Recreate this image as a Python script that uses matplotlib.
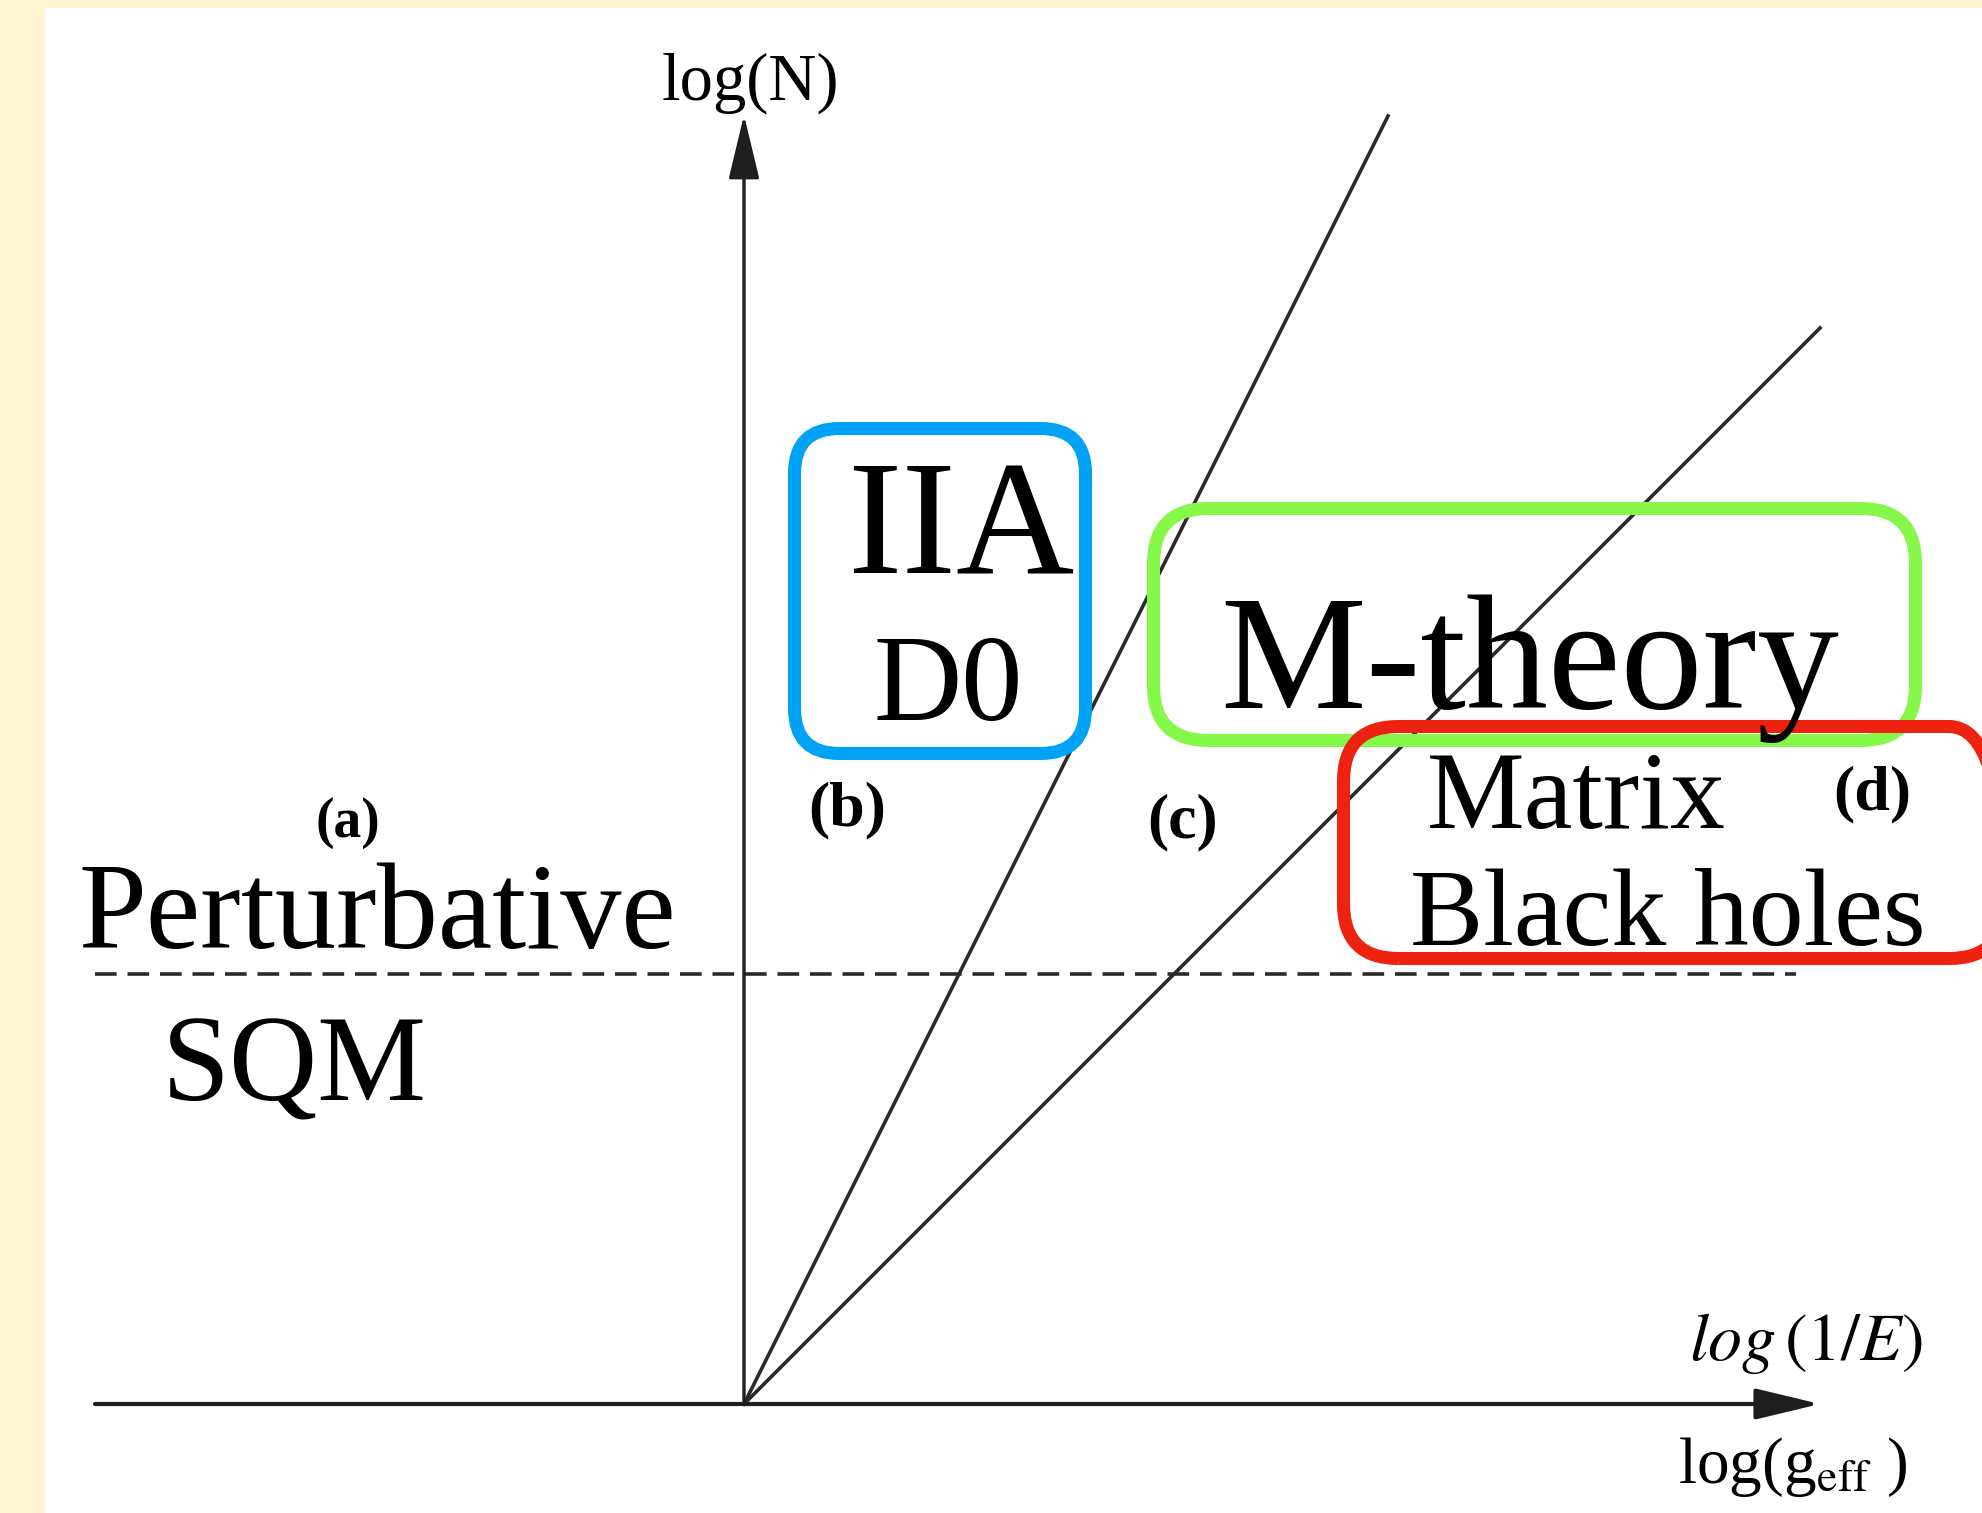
#!/usr/bin/python3
# -*- coding: utf-8 -*-

import matplotlib
matplotlib.use("Agg")
import matplotlib.pyplot as plt
from matplotlib.patches import FancyBboxPatch


#########################################################################################
#
#                                 Datos del diagrama
#
#########################################################################################

# unidades: 1 unidad = 100 px de la figura, origen en el cruce de los ejes
PENDIENTES_FRONTERA     =[2.0, 1.0]
X_FINAL_FRONTERA        =[6.44, 10.76]
Y_PERTURBATIVO          =4.3
X_PERTURBATIVO          =[-6.49, 10.52]
EJE_X                   =[-6.49, 10.76]
EJE_Y                   =[0.0, 12.89]

ETIQUETAS_REGION        =["(a)", "(b)", "(c)", "(d)"]

CREMA   ="#fff5d0"
AZUL    ="#00a2f5"
VERDE   ="#86f84a"
ROJO    ="#ee2210"
TINTA   ="#1e1e1e"

plt.rcParams["font.family"]=["Liberation Serif", "DejaVu Serif"]
plt.rcParams["mathtext.fontset"]="stix"


def texto(ax, x, y, cadena, tam, **kw):
    ax.text(x, y, cadena, fontsize=tam, ha="center", va="baseline", color="black", zorder=5, **kw)

def caja(ax, x0, y0, x1, y1, color, radio):
    p=FancyBboxPatch((x0, y0), x1-x0, y1-y0,
                     boxstyle="round,pad=0,rounding_size=%f" % radio,
                     fill=False, edgecolor=color, linewidth=9.4, zorder=4)
    ax.add_patch(p)

def flecha(ax, desde, hasta, lw):
    ax.annotate("", xy=hasta, xytext=desde,
                arrowprops=dict(arrowstyle="-|>,head_length=1.0,head_width=0.24",
                                mutation_scale=40, lw=lw, color=TINTA,
                                shrinkA=0, shrinkB=0))


fig=plt.figure(figsize=(19.83, 15.13), dpi=100, facecolor=CREMA)
ax=fig.add_axes([45/1983, 0, 1-45/1983, 1-8/1513])
ax.set_facecolor("white")
ax.set_xlim(-6.99, 12.39)
ax.set_ylim(-1.09, 13.96)
ax.set_xticks([])
ax.set_yticks([])
for s in ax.spines.values():
    s.set_visible(False)

# ejes
flecha(ax, (EJE_X[0], 0), (EJE_X[1], 0), 3.0)
flecha(ax, (0, EJE_Y[0]), (0, EJE_Y[1]), 2.4)

# fronteras entre regimenes
for m, xf in zip(PENDIENTES_FRONTERA, X_FINAL_FRONTERA):
    ax.plot([0, xf], [0, m*xf], color="#2a2a2a", lw=2.6, zorder=2)

ax.plot(X_PERTURBATIVO, [Y_PERTURBATIVO, Y_PERTURBATIVO], color="#2a2a2a", lw=2.6,
        linestyle=(0, (6, 3)), zorder=2)

# textos de ejes
texto(ax, 0.06, 13.04, "log(N)", 48)
texto(ax, 10.62, 0.44, r"$log\,(1/E)$", 49)
texto(ax, 10.49, -0.79, r"log(g$_{\mathrm{eff}}$ )", 47)

# etiquetas de regiones
pos_etiquetas=[(-3.96, 5.67), (1.03, 5.79), (4.39, 5.67), (11.28, 5.95)]
pesos=["bold", "bold", "bold", "bold"]
tams=[40, 46, 46, 46]
for et, (x, y), w, t in zip(ETIQUETAS_REGION, pos_etiquetas, pesos, tams):
    texto(ax, x, y, et, t, fontweight=w)

texto(ax, -3.67, 4.56, "Perturbative", 88)
texto(ax, -4.50, 3.04, "SQM", 88)
texto(ax, 2.17, 8.31, "IIA", 118)
texto(ax, 2.04, 6.84, "D0", 88)
texto(ax, 7.86, 6.96, "M-theory", 118)
texto(ax, 8.32, 5.76, "Matrix", 79)
texto(ax, 9.24, 4.59, "Black holes", 79)

# recuadros de colores
caja(ax, 0.505, 6.505, 3.415, 9.755, AZUL, 0.45)
caja(ax, 4.095, 6.635, 11.715, 8.955, VERDE, 0.55)
caja(ax, 5.995, 4.455, 12.6, 6.775, ROJO, 0.55)

plt.savefig("out.png", dpi=100, facecolor=CREMA)
